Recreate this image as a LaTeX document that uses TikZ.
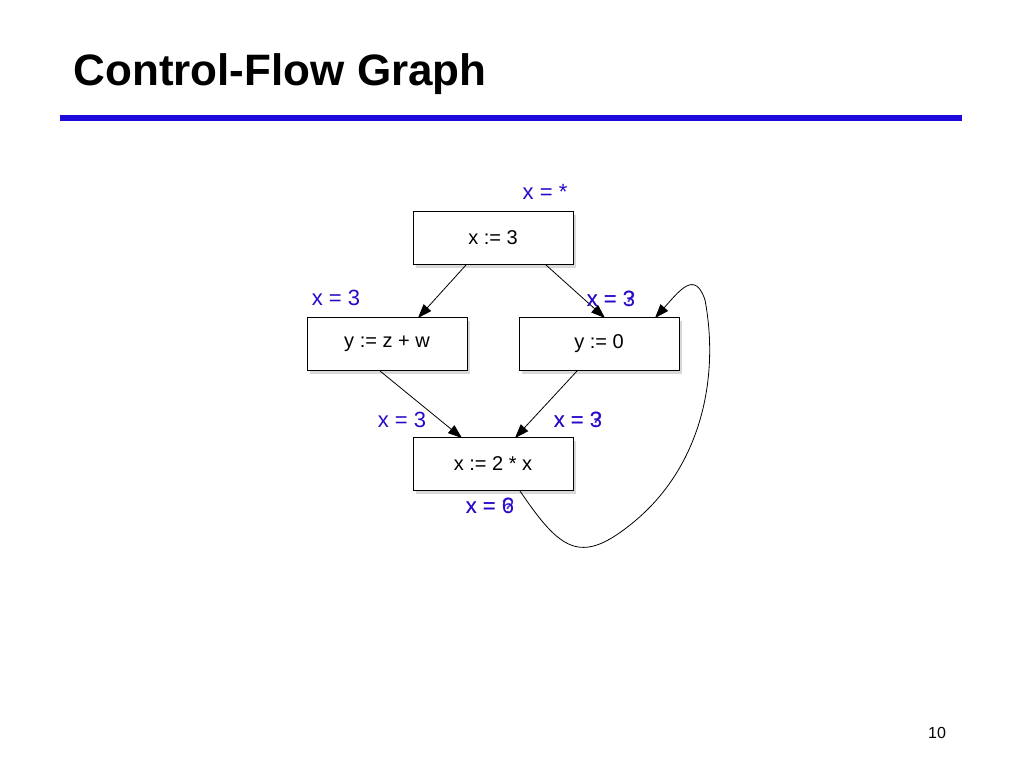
\documentclass[tikz,border=0pt]{standalone}
\usepackage{fontspec}
\setmainfont{Liberation Sans}
\usetikzlibrary{arrows.meta,shadows}
\definecolor{lblue}{RGB}{40,10,200}
\definecolor{lblueb}{RGB}{70,50,220}
\begin{document}
\begin{tikzpicture}[x=1pt,y=-1pt,
  blk/.style={draw=black,fill=white,minimum width=160pt,minimum height=53pt,font=\fontsize{20}{24}\selectfont,
    drop shadow={shadow xshift=3pt,shadow yshift=-3pt,fill=gray!60}},
  lab/.style={text=lblue,font=\fontsize{22}{26}\selectfont},
  labb/.style={text=lblueb,font=\fontsize{22}{26}\selectfont},
  arr/.style={-{Triangle[length=14pt,width=10pt]},thick}]
\useasboundingbox[fill=white] (0,0) rectangle (1024,768);
\node[anchor=base west,font=\bfseries\fontsize{44}{50}\selectfont] (title) at (70,85) {Control-Flow Graph};
\draw[line width=6pt,color={rgb,255:red,30;green,10;blue,220}] (60,118) -- (962,118);
\node[blk] (b1) at (493,238) {x := 3};
\node[blk] (b2) at (387,344) {y := z + w};
\node[blk] (b3) at (599,344) {y := 0};
\node[blk] (b4) at (493,464) {x := 2 * x};
\coordinate (s1) at (466,265); \coordinate (t1) at (418,318);
\coordinate (s2) at (546,265); \coordinate (t2) at (605,318);
\coordinate (s3) at (380,371); \coordinate (t3) at (462,438);
\coordinate (s4) at (577,371); \coordinate (t4) at (515,438);
\coordinate (s5) at (520,491); \coordinate (t5) at (655,318);
\draw[arr] (s1) -- (t1);
\draw[arr] (s2) -- (t2);
\draw[arr] (s3) -- (t3);
\draw[arr] (s4) -- (t4);
\draw[arr] (s5) .. controls (560,550) and (580,565) .. (630,525)
  .. controls (700,470) and (720,380) .. (705,300)
  .. controls (695,270) and (680,290) .. (t5);
\node[lab] (l1) at (545,192) {x = *};
\node[lab] (l2) at (336,298) {x = 3};
\node[labb] (l3b) at (611,299) {x = ?};
\node[lab] (l3) at (611,299) {x = 3};
\node[lab] (l4) at (402,420) {x = 3};
\node[labb] (l5b) at (578,420) {x = ?};
\node[lab] (l5) at (578,420) {x = 3};
\node[labb] (l6b) at (490,506) {x = ?};
\node[lab] (l6) at (490,506) {x = 6};
\node[font=\fontsize{16}{19}\selectfont] (pg) at (937,733) {10};
\end{tikzpicture}
\end{document}
